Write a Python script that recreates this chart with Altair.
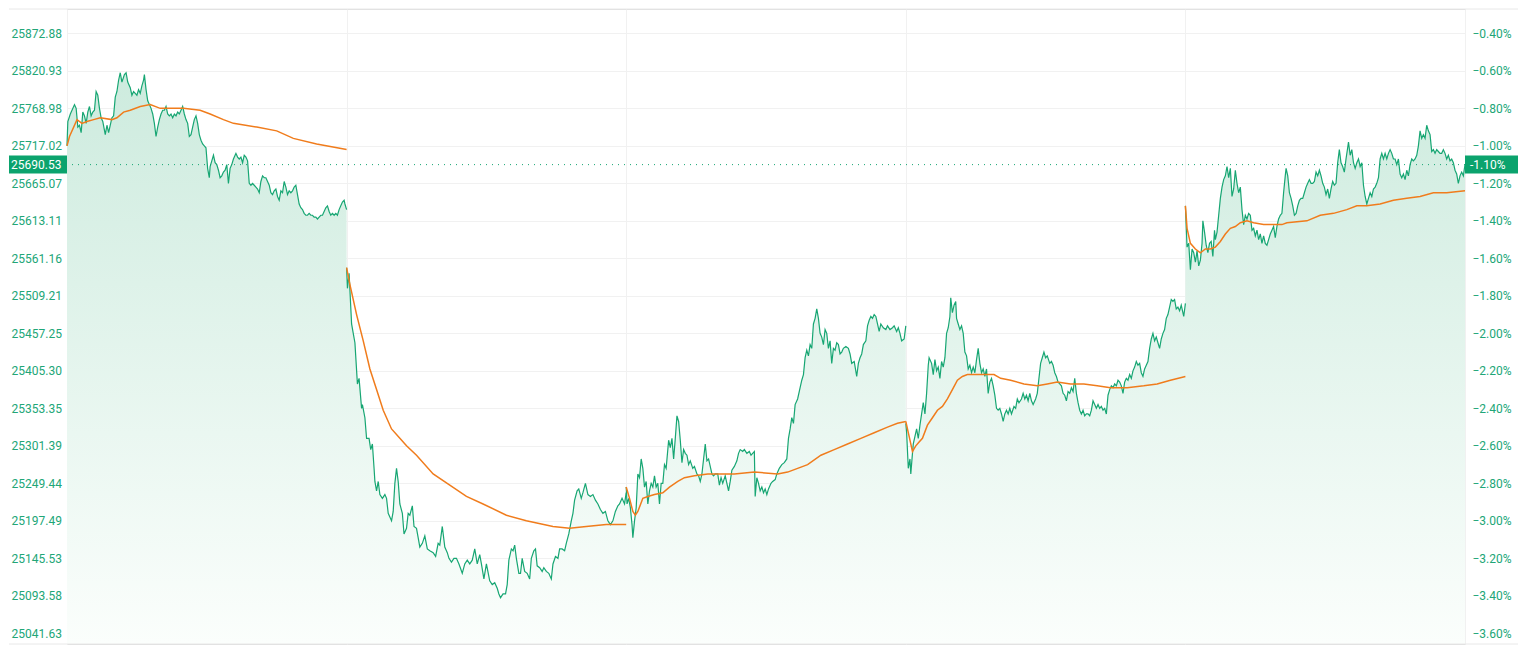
import altair as alt
import pandas as pd

# ---------------- data ----------------
SESSION_MINUTES = 336          # minutes per trading session on the time axis
N_SESSIONS = 5

price_labels = ["25041.63", "25093.58", "25145.53", "25197.49", "25249.44", "25301.39",
                "25353.35", "25405.30", "25457.25", "25509.21", "25561.16", "25613.11",
                "25665.07", "25717.02", "25768.98", "25820.93", "25872.88"]
pct_ticks = [-3.6, -3.4, -3.2, -3.0, -2.8, -2.6, -2.4, -2.2, -2.0, -1.8, -1.6, -1.4,
             -1.2, -1.0, -0.8, -0.6, -0.4]
last_price = "25690.53"
last_pct = -1.10

# (minute in session, % change vs previous close)
day1 = [(0,-1.00),(1,-0.87),(4,-0.83),(6,-0.81),(9,-0.78),(11,-0.80),(13,-0.90),(15,-0.89),(17,-0.93),(19,-0.82),
        (21,-0.84),(23,-0.88),(25,-0.82),(27,-0.79),(29,-0.84),(31,-0.82),(33,-0.81),(35,-0.71),(37,-0.73),(39,-0.80),
        (41,-0.85),(43,-0.87),(46,-0.94),(48,-0.89),(50,-0.93),(52,-0.89),(54,-0.85),(56,-0.84),(58,-0.74),(60,-0.71),
        (62,-0.65),(64,-0.61),(66,-0.66),(69,-0.62),(71,-0.61),(73,-0.66),(76,-0.69),(78,-0.73),(80,-0.71),(82,-0.72),
        (84,-0.73),(86,-0.70),(88,-0.72),(90,-0.68),(92,-0.65),(93,-0.62),(95,-0.70),(97,-0.76),(99,-0.78),(101,-0.80),
        (103,-0.83),(105,-0.88),(107,-0.95),(109,-0.90),(111,-0.86),(113,-0.83),(115,-0.81),(117,-0.81),(119,-0.79),(121,-0.83),
        (123,-0.84),(125,-0.83),(127,-0.85),(129,-0.83),(131,-0.84),(133,-0.82),(135,-0.83),(137,-0.81),(139,-0.79),(141,-0.83),
        (143,-0.86),(145,-0.88),(147,-0.95),(149,-0.94),(151,-0.90),(153,-0.86),(155,-0.84),(157,-0.88),(159,-0.94),(161,-0.97),
        (163,-0.99),(165,-1.00),(167,-1.01),(169,-1.12),(171,-1.17),(172,-1.11),(174,-1.08),(176,-1.05),(178,-1.09),(180,-1.10),
        (182,-1.13),(184,-1.17),(186,-1.16),(188,-1.14),(190,-1.13),(192,-1.10),(194,-1.20),(196,-1.12),(198,-1.10),(200,-1.07),
        (202,-1.05),(203,-1.04),(205,-1.06),(207,-1.07),(209,-1.06),(211,-1.09),(213,-1.05),(215,-1.06),(217,-1.08),(219,-1.20),
        (221,-1.21),(223,-1.20),(225,-1.21),(227,-1.22),(229,-1.23),(231,-1.25),(233,-1.19),(235,-1.16),(237,-1.17),(239,-1.17),
        (241,-1.19),(243,-1.21),(245,-1.25),(247,-1.26),(249,-1.24),(251,-1.23),(253,-1.27),(255,-1.29),(257,-1.24),(259,-1.25),
        (261,-1.19),(263,-1.22),(265,-1.26),(267,-1.24),(269,-1.25),(271,-1.24),(273,-1.22),(275,-1.21),(277,-1.26),(279,-1.31),
        (281,-1.33),(283,-1.34),(285,-1.36),(287,-1.37),(289,-1.37),(291,-1.36),(293,-1.37),(295,-1.37),(297,-1.38),(299,-1.38),
        (301,-1.39),(303,-1.38),(305,-1.37),(307,-1.37),(309,-1.35),(311,-1.33),(313,-1.32),(315,-1.35),(317,-1.37),(319,-1.36),
        (321,-1.37),(323,-1.36),(325,-1.37),(327,-1.34),(329,-1.32),(331,-1.30),(333,-1.29),(334,-1.31),(336,-1.34)]

day2 = [(0,-1.65),(1,-1.76),(3,-1.68),(4,-1.77),(6,-1.95),(8,-2.00),(10,-2.05),(13,-2.27),(15,-2.24),(18,-2.40),
        (19,-2.38),(22,-2.45),(24,-2.56),(27,-2.56),(29,-2.62),(31,-2.59),(33,-2.72),(34,-2.79),(36,-2.84),(38,-2.79),
        (40,-2.86),(43,-2.88),(46,-2.86),(48,-2.88),(50,-2.96),(54,-3.00),(56,-2.95),(58,-2.80),(60,-2.72),(62,-2.79),
        (64,-2.91),(67,-2.96),(69,-3.07),(72,-3.04),(74,-2.96),(76,-2.97),(79,-2.92),(81,-3.03),(84,-3.04),(86,-3.09),
        (88,-3.14),(91,-3.12),(94,-3.08),(97,-3.15),(100,-3.16),(104,-3.17),(107,-3.19),(110,-3.12),(112,-3.13),(115,-3.03),
        (118,-3.14),(121,-3.17),(123,-3.20),(126,-3.22),(129,-3.20),(132,-3.20),(135,-3.23),(139,-3.28),(142,-3.23),(145,-3.21),
        (148,-3.23),(151,-3.21),(154,-3.15),(157,-3.23),(160,-3.18),(162,-3.23),(165,-3.31),(168,-3.23),(172,-3.32),(175,-3.34),
        (178,-3.33),(181,-3.36),(183,-3.39),(185,-3.41),(188,-3.39),(191,-3.39),(193,-3.34),(195,-3.21),(198,-3.15),(200,-3.16),
        (202,-3.13),(204,-3.20),(207,-3.28),(209,-3.28),(211,-3.20),(214,-3.27),(217,-3.28),(220,-3.31),(222,-3.20),(225,-3.16),
        (227,-3.15),(229,-3.24),(232,-3.25),(235,-3.27),(237,-3.25),(240,-3.27),(243,-3.28),(246,-3.31),(248,-3.23),(251,-3.19),
        (254,-3.20),(256,-3.15),(259,-3.15),(262,-3.16),(264,-3.12),(267,-3.07),(270,-3.00),(272,-2.96),(274,-2.89),(277,-2.84),
        (279,-2.83),(282,-2.88),(284,-2.85),(287,-2.80),(290,-2.86),(293,-2.87),(296,-2.86),(299,-2.89),(302,-2.91),(305,-2.94),
        (308,-2.96),(311,-2.95),(314,-3.00),(317,-3.02),(320,-3.00),(323,-2.95),(326,-2.92),(328,-2.91),(331,-2.88),(334,-2.91),
        (336,-2.85)]

day3 = [(0,-2.82),(1,-2.91),(3,-2.88),(5,-2.93),(7,-3.02),(8,-3.09),(10,-3.00),(12,-2.93),(14,-2.75),(16,-2.77),
        (18,-2.67),(20,-2.72),(22,-2.82),(24,-2.79),(26,-2.91),(28,-2.84),(30,-2.80),(32,-2.82),(34,-2.76),(36,-2.82),
        (38,-2.80),(40,-2.91),(42,-2.80),(44,-2.80),(46,-2.70),(48,-2.72),(51,-2.57),(53,-2.61),(55,-2.56),(57,-2.67),
        (59,-2.56),(61,-2.44),(63,-2.47),(65,-2.57),(67,-2.69),(69,-2.62),(71,-2.64),(73,-2.65),(75,-2.70),(77,-2.68),
        (80,-2.72),(82,-2.71),(85,-2.75),(87,-2.76),(89,-2.79),(91,-2.75),(93,-2.67),(95,-2.59),(97,-2.68),(99,-2.67),
        (101,-2.71),(103,-2.75),(105,-2.76),(107,-2.75),(110,-2.75),(112,-2.81),(114,-2.77),(116,-2.80),(119,-2.76),(121,-2.80),
        (123,-2.84),(125,-2.79),(127,-2.73),(130,-2.71),(133,-2.68),(135,-2.64),(137,-2.62),(140,-2.63),(142,-2.62),(145,-2.64),
        (148,-2.63),(150,-2.65),(152,-2.64),(154,-2.63),(155,-2.87),(157,-2.77),(159,-2.80),(161,-2.84),(163,-2.82),(165,-2.85),
        (167,-2.83),(169,-2.86),(171,-2.83),(174,-2.80),(176,-2.79),(179,-2.78),(181,-2.75),(184,-2.72),(187,-2.70),(190,-2.69),
        (193,-2.67),(195,-2.56),(197,-2.51),(199,-2.45),(201,-2.48),(203,-2.38),(206,-2.35),(209,-2.29),(211,-2.25),(213,-2.22),
        (215,-2.13),(217,-2.09),(219,-2.12),(221,-2.06),(223,-2.08),(225,-1.95),(227,-1.92),(229,-1.87),(231,-1.92),(233,-2.00),
        (235,-2.02),(237,-2.06),(239,-1.98),(241,-2.00),(243,-2.08),(245,-2.04),(247,-2.16),(249,-2.08),(251,-2.09),(253,-2.05),
        (255,-2.06),(257,-2.11),(259,-2.10),(261,-2.08),(264,-2.07),(267,-2.08),(269,-2.11),(271,-2.16),(274,-2.15),(277,-2.23),
        (279,-2.16),(281,-2.13),(283,-2.11),(285,-2.06),(288,-2.04),(290,-1.96),(292,-1.93),(294,-1.91),(296,-1.92),(298,-1.90),
        (300,-1.91),(302,-1.95),(304,-1.99),(306,-1.95),(309,-1.97),(312,-1.98),(314,-1.96),(317,-1.98),(320,-1.97),(322,-1.96),
        (325,-1.99),(327,-1.97),(329,-2.00),(331,-2.04),(334,-2.03),(336,-1.96)]

day4 = [(0,-2.48),(1,-2.53),(3,-2.72),(5,-2.67),(6,-2.75),(8,-2.64),(9,-2.59),(11,-2.55),(13,-2.51),(15,-2.56),
        (17,-2.49),(19,-2.43),(21,-2.37),(23,-2.43),(25,-2.32),(27,-2.17),(28,-2.13),(31,-2.16),(33,-2.22),(35,-2.14),
        (37,-2.20),(39,-2.18),(41,-2.24),(43,-2.15),(45,-2.18),(47,-2.13),(49,-2.00),(51,-1.97),(53,-1.91),(54,-1.81),
        (56,-1.89),(58,-1.85),(60,-1.83),(61,-1.92),(63,-1.95),(65,-1.98),(67,-1.96),(69,-2.00),(71,-2.10),(73,-2.12),
        (75,-2.19),(77,-2.17),(79,-2.21),(81,-2.18),(83,-2.21),(85,-2.14),(87,-2.08),(89,-2.16),(91,-2.21),(93,-2.19),
        (95,-2.23),(97,-2.19),(99,-2.32),(101,-2.26),(103,-2.24),(105,-2.28),(107,-2.33),(109,-2.40),(111,-2.41),(113,-2.40),
        (115,-2.43),(117,-2.47),(119,-2.43),(121,-2.41),(123,-2.43),(125,-2.40),(127,-2.43),(130,-2.39),(132,-2.40),(134,-2.35),
        (136,-2.37),(139,-2.35),(141,-2.32),(143,-2.35),(145,-2.33),(147,-2.36),(149,-2.32),(151,-2.36),(153,-2.38),(156,-2.35),
        (158,-2.32),(160,-2.24),(162,-2.16),(164,-2.13),(166,-2.10),(168,-2.13),(170,-2.12),(173,-2.16),(175,-2.15),(177,-2.17),
        (179,-2.21),(181,-2.23),(183,-2.26),(185,-2.27),(187,-2.28),(189,-2.32),(191,-2.33),(193,-2.36),(195,-2.31),(197,-2.32),
        (199,-2.29),(201,-2.31),(203,-2.24),(205,-2.32),(207,-2.37),(209,-2.41),(211,-2.43),(213,-2.41),(215,-2.44),(217,-2.43),
        (219,-2.43),(221,-2.44),(223,-2.41),(225,-2.36),(227,-2.38),(229,-2.40),(231,-2.38),(233,-2.40),(235,-2.39),(237,-2.41),
        (239,-2.40),(241,-2.43),(243,-2.33),(245,-2.30),(247,-2.28),(249,-2.29),(251,-2.27),(253,-2.28),(255,-2.25),(257,-2.26),
        (259,-2.28),(261,-2.32),(263,-2.26),(265,-2.24),(267,-2.25),(269,-2.22),(271,-2.24),(273,-2.20),(275,-2.18),(277,-2.15),
        (279,-2.17),(281,-2.16),(283,-2.21),(285,-2.23),(287,-2.19),(289,-2.17),(291,-2.15),(293,-2.08),(295,-2.03),(297,-2.00),
        (299,-2.04),(301,-2.02),(303,-2.05),(305,-2.08),(307,-2.03),(309,-2.00),(311,-1.98),(313,-1.92),(315,-1.90),(317,-1.86),
        (319,-1.82),(321,-1.83),(323,-1.82),(325,-1.87),(327,-1.86),(329,-1.88),(331,-1.85),(334,-1.91),(336,-1.84)]

day5 = [(0,-1.32),(2,-1.54),(4,-1.52),(6,-1.66),(8,-1.55),(10,-1.57),(12,-1.62),(14,-1.56),(16,-1.64),(18,-1.61),
        (20,-1.52),(21,-1.40),(23,-1.46),(25,-1.53),(27,-1.57),(29,-1.52),(31,-1.51),(33,-1.59),(35,-1.45),(36,-1.50),
        (38,-1.46),(40,-1.37),(42,-1.28),(44,-1.22),(46,-1.18),(48,-1.16),(50,-1.11),(52,-1.17),(54,-1.12),(56,-1.27),
        (58,-1.23),(60,-1.13),(62,-1.20),(64,-1.25),(66,-1.22),(68,-1.34),(70,-1.42),(72,-1.37),(74,-1.39),(76,-1.36),
        (78,-1.37),(80,-1.45),(82,-1.44),(84,-1.48),(86,-1.45),(88,-1.50),(90,-1.47),(92,-1.52),(94,-1.48),(96,-1.52),
        (98,-1.53),(100,-1.50),(102,-1.47),(104,-1.45),(106,-1.43),(108,-1.49),(110,-1.43),(112,-1.39),(114,-1.37),(116,-1.36),
        (118,-1.25),(120,-1.16),(121,-1.12),(123,-1.16),(125,-1.25),(127,-1.28),(129,-1.32),(131,-1.37),(133,-1.36),(135,-1.32),
        (137,-1.29),(139,-1.28),(141,-1.28),(143,-1.25),(145,-1.22),(147,-1.20),(149,-1.18),(151,-1.20),(153,-1.20),(155,-1.19),
        (157,-1.14),(159,-1.16),(161,-1.13),(163,-1.16),(165,-1.20),(167,-1.22),(169,-1.26),(171,-1.23),(173,-1.28),(175,-1.23),
        (177,-1.19),(179,-1.21),(181,-1.20),(183,-1.09),(185,-1.02),(187,-1.09),(189,-1.11),(191,-1.14),(193,-1.07),(195,-1.01),
        (196,-0.98),(198,-1.05),(200,-1.02),(202,-1.09),(204,-1.12),(206,-1.09),(208,-1.07),(210,-1.11),(212,-1.09),(214,-1.21),
        (216,-1.27),(218,-1.31),(220,-1.28),(222,-1.25),(224,-1.27),(226,-1.23),(228,-1.22),(230,-1.20),(232,-1.17),(234,-1.07),
        (236,-1.04),(238,-1.07),(240,-1.04),(242,-1.07),(244,-1.04),(246,-1.02),(248,-1.04),(250,-1.07),(252,-1.07),(254,-1.10),
        (256,-1.07),(258,-1.15),(260,-1.17),(262,-1.15),(264,-1.18),(266,-1.13),(268,-1.16),(270,-1.10),(272,-1.07),(274,-1.08),
        (276,-1.07),(278,-1.05),(280,-1.00),(282,-0.92),(284,-0.96),(286,-0.94),(288,-0.96),(290,-0.89),(292,-0.92),(294,-0.94),
        (296,-1.03),(298,-1.02),(300,-1.04),(302,-1.02),(304,-1.03),(306,-1.04),(308,-1.04),(310,-1.02),(312,-1.04),(314,-1.07),
        (316,-1.05),(318,-1.08),(320,-1.07),(322,-1.09),(324,-1.13),(326,-1.15),(328,-1.20),(330,-1.16),(332,-1.14),(334,-1.16),
        (336,-1.10)]

# session average price line, % vs previous close
avg1 = [(0,-1.00),(3,-0.95),(12,-0.86),(18,-0.88),(24,-0.87),(32,-0.86),(40,-0.85),(54,-0.86),(60,-0.85),(68,-0.82),
        (76,-0.81),(88,-0.79),(100,-0.78),(112,-0.80),(128,-0.80),(140,-0.80),(160,-0.81),(172,-0.83),(188,-0.86),(200,-0.88),
        (228,-0.90),(252,-0.92),(272,-0.96),(300,-0.99),(336,-1.02)]
avg2 = [(0,-1.65),(4,-1.74),(12,-1.90),(20,-2.04),(28,-2.19),(36,-2.30),(44,-2.41),(54,-2.51),(64,-2.56),(72,-2.60),
        (84,-2.65),(104,-2.75),(124,-2.81),(144,-2.87),(164,-2.91),(192,-2.97),(216,-3.00),(248,-3.03),(268,-3.04),(288,-3.03),
        (312,-3.02),(336,-3.02)]
avg3 = [(0,-2.82),(4,-2.88),(8,-2.95),(11,-2.97),(14,-2.95),(20,-2.88),(26,-2.87),(34,-2.86),(44,-2.85),(52,-2.82),
        (62,-2.79),(70,-2.77),(82,-2.76),(98,-2.75),(130,-2.75),(154,-2.74),(182,-2.75),(194,-2.74),(206,-2.72),(218,-2.70),
        (234,-2.65),(250,-2.62),(266,-2.59),(282,-2.56),(298,-2.53),(314,-2.50),(326,-2.48),(336,-2.47)]
avg4 = [(0,-2.47),(4,-2.55),(8,-2.63),(12,-2.60),(16,-2.58),(20,-2.56),(26,-2.49),(32,-2.45),(38,-2.41),(44,-2.39),
        (50,-2.35),(56,-2.30),(62,-2.25),(68,-2.23),(74,-2.22),(98,-2.22),(106,-2.22),(114,-2.24),(126,-2.25),(142,-2.27),
        (158,-2.28),(170,-2.27),(182,-2.26),(198,-2.27),(214,-2.27),(230,-2.28),(246,-2.29),(266,-2.29),(286,-2.28),(302,-2.27),
        (318,-2.25),(336,-2.23)]
avg5 = [(0,-1.32),(2,-1.44),(6,-1.52),(12,-1.55),(18,-1.57),(24,-1.55),(30,-1.55),(36,-1.54),(42,-1.51),(48,-1.47),
        (54,-1.44),(60,-1.43),(66,-1.41),(74,-1.40),(82,-1.41),(94,-1.42),(116,-1.42),(122,-1.41),(146,-1.40),(162,-1.37),
        (178,-1.36),(194,-1.34),(206,-1.32),(218,-1.32),(234,-1.31),(250,-1.29),(266,-1.28),(282,-1.27),(298,-1.25),(314,-1.25),
        (336,-1.24)]

# ---------------- tables ----------------
def build(sessions):
    rows, seq = [], 0
    for d, pts in enumerate(sessions):
        for m, v in pts:
            rows.append({"day": d, "t": d * SESSION_MINUTES + m, "v": v, "seq": seq})
            seq += 1
    return pd.DataFrame(rows)

price_df = build([day1, day2, day3, day4, day5])
avg_df = build([avg1, avg2, avg3, avg4, avg5])
last_df = pd.DataFrame({"v": [last_pct], "price": [last_price], "pct_label": [f"{last_pct:.2f}%"]})
tick_df = pd.DataFrame({"v": pct_ticks})
one_df = pd.DataFrame({"k": [0]})

# ---------------- style ----------------
W, H = 1398, 635
Y_DOMAIN = [-3.657, -0.270]
GREEN = "#17a673"
ORANGE = "#f07c1c"
BOX = "#0ba36d"
TXT = "#21a677"
GRID = "#f1f1f1"
FONT = "Roboto"

xscale = alt.Scale(domain=[0, SESSION_MINUTES * N_SESSIONS], nice=False, zero=False)
yscale = alt.Scale(domain=Y_DOMAIN, nice=False, zero=False)
xaxis = alt.Axis(values=[d * SESSION_MINUTES for d in range(N_SESSIONS + 1)], labels=False, ticks=False,
                 domain=False, grid=True, gridColor=GRID, title=None)

label_expr = ("[" + ",".join(f"'{p}'" for p in price_labels) + "]"
              + f"[round((datum.value - ({pct_ticks[0]})) / 0.2)]")
left_axis = alt.Axis(values=pct_ticks, orient="left", labelExpr=label_expr, labelAlign="left",
                     labelPadding=56, ticks=False, domain=False, grid=True, gridColor=GRID,
                     labelColor=TXT, labelFont=FONT, labelFontSize=12, title=None)
right_axis = alt.Axis(values=pct_ticks, orient="right", labelExpr="format(datum.value, '.2f') + '%'",
                      labelAlign="left", labelPadding=7, ticks=False, domain=False, grid=False,
                      labelColor=TXT, labelFont=FONT, labelFontSize=12, title=None)

grad = alt.Gradient(gradient="linear",
                    stops=[alt.GradientStop(color="#cdebde", offset=0),
                           alt.GradientStop(color="#fbfefc", offset=1)],
                    x1=1, x2=1, y1=0, y2=1)

X = alt.X("t:Q", scale=xscale, axis=xaxis)

area = alt.Chart(price_df).mark_area(color=grad, interpolate="linear").encode(
    x=X, y=alt.Y("v:Q", scale=yscale, axis=left_axis), y2=alt.Y2(datum=Y_DOMAIN[0]))

line = alt.Chart(price_df).mark_line(color=GREEN, strokeWidth=1.2).encode(
    x=X, y=alt.Y("v:Q", scale=yscale, axis=None), detail="day:N", order="seq:Q")

avg = alt.Chart(avg_df).mark_line(color=ORANGE, strokeWidth=1.5).encode(
    x=X, y=alt.Y("v:Q", scale=yscale, axis=None), detail="day:N", order="seq:Q")

right_ax = alt.Chart(tick_df).mark_point(opacity=0).encode(
    y=alt.Y("v:Q", scale=yscale, axis=right_axis))

dotted = alt.Chart(last_df).mark_rule(color=GREEN, strokeDash=[1, 5], strokeWidth=1).encode(
    y=alt.Y("v:Q", scale=yscale, axis=None))

border_top = alt.Chart(one_df).mark_rule(color="#e8e8e8", strokeWidth=1).encode(
    x=alt.value(-58), x2=alt.value(W + 53), y=alt.value(0))
border_bot = alt.Chart(one_df).mark_rule(color="#e8e8e8", strokeWidth=1).encode(
    x=alt.value(-58), x2=alt.value(W + 53), y=alt.value(H))

left_box = alt.Chart(last_df).mark_rect(color=BOX, yOffset=-9, y2Offset=9).encode(
    x=alt.value(-58), x2=alt.value(0), y=alt.Y("v:Q", scale=yscale, axis=None), y2="v")
left_text = alt.Chart(last_df).mark_text(color="white", align="left", baseline="middle",
                                         font=FONT, fontSize=12).encode(
    x=alt.value(-56), y=alt.Y("v:Q", scale=yscale, axis=None), text="price:N")
right_box = alt.Chart(last_df).mark_rect(color=BOX, yOffset=-9, y2Offset=9).encode(
    x=alt.value(W), x2=alt.value(W + 53), y=alt.Y("v:Q", scale=yscale, axis=None), y2="v")
right_text = alt.Chart(last_df).mark_text(color="white", align="left", baseline="middle",
                                          font=FONT, fontSize=12).encode(
    x=alt.value(W + 5), y=alt.Y("v:Q", scale=yscale, axis=None), text="pct_label:N")

chart = (alt.layer(area, line, avg, dotted, border_top, border_bot, right_ax,
                   left_box, left_text, right_box, right_text)
         .resolve_scale(y="shared")
         .resolve_axis(y="independent")
         .properties(width=W, height=H, padding=0, background="white")
         .configure_view(stroke=None)
         .configure(font=FONT))

chart.save("out.html", embed_options={"renderer": "svg", "actions": False})
